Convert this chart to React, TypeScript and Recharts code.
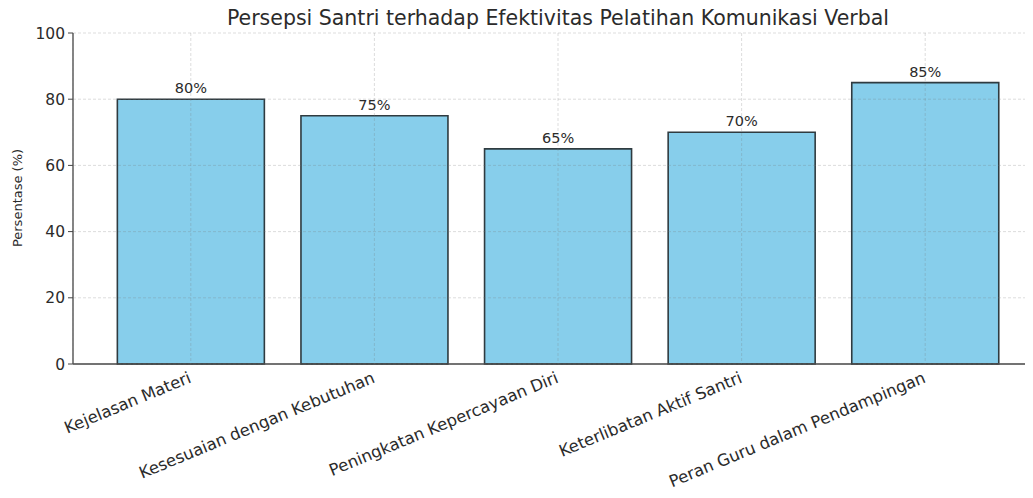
import { BarChart, Bar, XAxis, YAxis, CartesianGrid, LabelList } from "recharts";

const CATEGORIES = [
  "Kejelasan Materi",
  "Kesesuaian dengan Kebutuhan",
  "Peningkatan Kepercayaan Diri",
  "Keterlibatan Aktif Santri",
  "Peran Guru dalam Pendampingan",
];
const PERCENTAGES = [80, 75, 65, 70, 85];
const Y_TICKS = [0, 20, 40, 60, 80, 100];

const TITLE = "Persepsi Santri terhadap Efektivitas Pelatihan Komunikasi Verbal";
const Y_LABEL = "Persentase (%)";

const FONT = "'DejaVu Sans', Verdana, sans-serif";
const TEXT = "#2b2b2b";
const AXIS = "#444";

const data = CATEGORIES.map((name, i) => ({ name, value: PERCENTAGES[i] }));

function RotatedTick(props: any) {
  const { x, y, payload } = props;
  const ax = x - 3;
  const ay = y - 1;
  return (
    <text
      x={ax}
      y={ay}
      dy="0.72em"
      textAnchor="end"
      transform={`rotate(-22.5, ${ax}, ${ay})`}
      fontSize={16.4}
      fill={TEXT}
      fontFamily={FONT}
    >
      {payload.value}
    </text>
  );
}

function YLabel() {
  return (
    <text
      x={17}
      y={198}
      transform="rotate(-90, 17, 198)"
      textAnchor="middle"
      dominantBaseline="central"
      fontSize={13}
      fill={TEXT}
      fontFamily={FONT}
    >
      {Y_LABEL}
    </text>
  );
}

export default function App() {
  return (
    <div
      style={{
        position: "relative",
        margin: -8,
        width: 1033,
        height: 498,
        overflow: "hidden",
        background: "#fff",
        fontFamily: FONT,
      }}
    >
      <div
        style={{
          position: "absolute",
          left: 73,
          width: 970,
          top: 6,
          textAlign: "center",
          fontSize: 20.5,
          color: TEXT,
          whiteSpace: "nowrap",
        }}
      >
        {TITLE}
      </div>
      <BarChart
        width={1050}
        height={498}
        data={data}
        margin={{ top: 33, right: 7, bottom: 0, left: 13 }}
        barCategoryGap="10%"
        style={{ position: "absolute", left: 0, top: 0 }}
      >
        <XAxis
          dataKey="name"
          type="category"
          padding={{ left: 26, right: 26 }}
          height={134}
          interval={0}
          tick={<RotatedTick />}
          tickLine={false}
          axisLine={{ stroke: AXIS, strokeWidth: 1.3 }}
        />
        <YAxis
          type="number"
          domain={[0, 100]}
          ticks={Y_TICKS}
          width={60}
          tickSize={5}
          tickMargin={3}
          tick={{ fontSize: 15.5, fill: TEXT, fontFamily: FONT }}
          tickLine={{ stroke: AXIS }}
          axisLine={{ stroke: AXIS, strokeWidth: 1.3 }}
          label={<YLabel />}
        />
        <Bar
          dataKey="value"
          fill="#87CEEB"
          stroke="#2f3b40"
          strokeWidth={1.6}
          isAnimationActive={false}
        >
          <LabelList
            dataKey="value"
            position="top"
            offset={6}
            formatter={(v: any) => `${v}%`}
            style={{ fontSize: 14.5, fill: TEXT, fontFamily: FONT }}
          />
        </Bar>
        <CartesianGrid
          stroke="rgba(120,120,120,0.25)"
          strokeDasharray="3 2"
          zIndex={1000}
        />
      </BarChart>
    </div>
  );
}
